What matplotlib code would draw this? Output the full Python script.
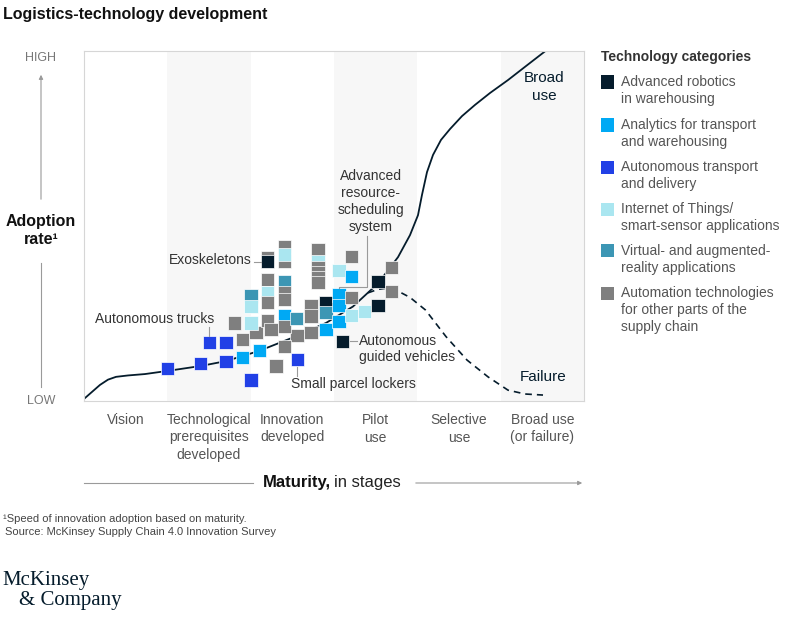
import matplotlib
matplotlib.use('Agg')
import matplotlib.pyplot as plt
from matplotlib.lines import Line2D
from matplotlib.patches import Rectangle, FancyArrowPatch

plt.rcParams['font.family'] = ['Liberation Sans', 'DejaVu Sans']

# stages on x (0 = start of "Vision", 6 = end of "Broad use"), adoption rate 0-100 on y
stage_labels = ['Vision', 'Technological\nprerequisites\ndeveloped', 'Innovation\ndeveloped',
                'Pilot\nuse', 'Selective\nuse', 'Broad use\n(or failure)']

category_names = ['Advanced robotics\nin warehousing',
                  'Analytics for transport\nand warehousing',
                  'Autonomous transport\nand delivery',
                  'Internet of Things/\nsmart-sensor applications',
                  'Virtual- and augmented-\nreality applications',
                  'Automation technologies\nfor other parts of the\nsupply chain']
category_keys = ['robot', 'analytics', 'auto', 'iot', 'vr', 'other']
category_colors = ['#051C2C', '#00A9F4', '#2140E6', '#AAE6F0', '#3C96B4', '#7F7F7F']

# technologies, in drawing order (later ones sit on top)
tech_stage = [1.806, 1.902, 2.064, 2.203, 2.244, 2.304, 2.556,
              2.203, 2.203,
              2.203, 2.203, 2.203,
              2.406, 2.406, 2.406,
              2.406, 2.406, 2.406,
              2.406, 2.406, 2.406,
              2.808, 2.808, 2.808, 2.808, 2.808, 2.808,
              2.004, 2.004, 2.004,
              2.724, 2.724, 2.724,
              2.904, 2.904, 2.904,
              3.060, 3.060, 3.060, 3.060,
              3.209, 3.209, 3.209, 3.209,
              3.370, 3.527, 3.527, 3.692, 3.692, 3.106, 2.552,
              1.902, 2.104,
              1.003, 1.400, 1.703, 1.504, 1.703, 2.004, 2.558]
tech_rate = [22.3, 17.6, 19.6, 23.1, 20.5, 10.0, 18.6,
             41.0, 39.9,
             34.7, 31.0, 28.1,
             44.1, 40.0, 41.9,
             34.0, 30.9, 28.9,
             24.3, 21.4, 15.5,
             43.4, 39.7, 38.0, 36.7, 35.4, 33.9,
             30.0, 27.0, 22.3,
             27.3, 24.3, 19.5,
             28.1, 25.3, 20.5,
             37.4, 30.3, 27.3, 22.6,
             41.4, 35.5, 29.6, 24.4,
             25.5, 34.1, 27.4, 38.1, 31.4, 17.0, 23.6,
             12.5, 14.4,
             9.3, 10.6, 11.4, 16.7, 16.7, 6.0, 11.9]
tech_kind = ['other', 'other', 'other', 'other', 'other', 'other', 'other',
             'other', 'robot',
             'other', 'iot', 'other',
             'other', 'other', 'iot',
             'vr', 'other', 'other',
             'analytics', 'other', 'other',
             'other', 'iot', 'other', 'other', 'other', 'other',
             'vr', 'iot', 'iot',
             'other', 'other', 'other',
             'robot', 'vr', 'analytics',
             'iot', 'analytics', 'analytics', 'analytics',
             'other', 'analytics', 'other', 'iot',
             'iot', 'robot', 'robot', 'other', 'other', 'robot', 'vr',
             'analytics', 'analytics',
             'auto', 'auto', 'auto', 'auto', 'auto', 'auto', 'auto']

# adoption curve (solid) and failure branch (dashed)
curve_stage = [0.0, 0.096, 0.192, 0.288, 0.384, 0.528, 0.732, 1.003, 1.400, 1.704, 2.1,
               2.556, 2.904, 3.228, 3.528, 3.768, 3.912, 4.008, 4.056, 4.116, 4.188,
               4.284, 4.392, 4.536, 4.692, 4.872, 5.088, 5.304, 5.532]
curve_rate = [0.6, 2.6, 4.6, 6.1, 6.9, 7.3, 7.7, 8.6, 10.0, 11.4, 14.3,
              18.6, 22.3, 27.0, 33.6, 41.1, 47.4, 53.1, 58.9, 65.4, 70.3,
              74.6, 77.7, 81.4, 84.6, 88.0, 91.7, 95.7, 99.9]
fail_stage = [3.408, 3.528, 3.648, 3.768, 3.912, 4.098, 4.344, 4.596, 4.848, 5.088, 5.292, 5.508]
fail_rate = [30.9, 31.9, 32.3, 31.4, 29.6, 26.0, 18.4, 11.7, 6.9, 3.1, 2.0, 1.7]

W, H = 804, 617


def fx(x):
    return x / W


def fy(y):
    return 1 - y / H


fig = plt.figure(figsize=(W / 100, H / 100), dpi=100)
fig.patch.set_facecolor('white')


def label(x, y, s, **kw):
    fig.text(fx(x), fy(y), s, **kw)


def seg(xs, ys, color='#9a9a9a', lw=0.8):
    fig.add_artist(Line2D([fx(v) for v in xs], [fy(v) for v in ys],
                          transform=fig.transFigure, color=color, lw=lw))


def arrow(x0, y0, x1, y1):
    fig.add_artist(FancyArrowPatch((fx(x0), fy(y0)), (fx(x1), fy(y1)),
                                   transform=fig.transFigure, arrowstyle='-|>',
                                   mutation_scale=6, lw=0.8, color='#9a9a9a'))


ax = fig.add_axes([fx(84), fy(401), 500 / W, 350 / H])
ax.set_xlim(0, 6)
ax.set_ylim(0, 100)
ax.set_xticks([])
ax.set_yticks([])
for s in ax.spines.values():
    s.set_color('#d6d6d6')
    s.set_linewidth(0.8)
for i in range(len(stage_labels)):
    if i % 2 == 1:
        ax.axvspan(i, i + 1, color='#f7f7f7', lw=0, zorder=0)

ax.plot(curve_stage, curve_rate, color='#051C2C', lw=1.3, zorder=2)
ax.plot(fail_stage, fail_rate, color='#051C2C', lw=1.2, ls=(0, (4, 3)), zorder=2)

color_of = dict(zip(category_keys, category_colors))
ax.scatter(tech_stage, tech_rate, c=[color_of[k] for k in tech_kind], marker='s', s=90,
           edgecolors='white', linewidths=0.5, zorder=3)

# stage labels under the plot
for i, txt in enumerate(stage_labels):
    for j, line in enumerate(txt.split('\n')):
        label(84 + 83.33 * (i + 0.5), 420 + 17.5 * j, line, ha='center', va='center',
              fontsize=10, color='#555555')

# annotations
dark = '#333333'
label(252, 260, 'Exoskeletons', ha='right', va='center', fontsize=10, color=dark)
seg([254, 261], [262, 262])
label(155, 319, 'Autonomous trucks', ha='center', va='center', fontsize=10, color=dark)
seg([209, 209], [327, 336])
for j, line in enumerate(['Advanced', 'resource-', 'scheduling', 'system']):
    label(371, 176 + 17 * j, line, ha='center', va='center', fontsize=10, color=dark)
seg([366.6, 366.6, 339, 339], [236, 286.5, 286.5, 288])
label(359, 341, 'Autonomous', ha='left', va='center', fontsize=10, color=dark)
label(359, 357, 'guided vehicles', ha='left', va='center', fontsize=10, color=dark)
seg([350, 357], [341, 341])
label(353, 384, 'Small parcel lockers', ha='center', va='center', fontsize=10, color=dark)
seg([297, 297], [367, 376])
label(544, 78, 'Broad', ha='center', va='center', fontsize=11, color='#051C2C')
label(544, 96, 'use', ha='center', va='center', fontsize=11, color='#051C2C')
label(543, 377, 'Failure', ha='center', va='center', fontsize=11, color='#051C2C')

# y axis
label(41, 58, 'HIGH', ha='center', va='center', fontsize=9, color='#777777')
label(41, 401, 'LOW', ha='center', va='center', fontsize=9, color='#777777')
label(41, 221, 'Adoption', ha='center', va='center', fontsize=11.5, weight='bold', color='#111111')
label(41, 240, 'rate\u00b9', ha='center', va='center', fontsize=11.5, weight='bold', color='#111111')
arrow(41, 202, 41, 72)
seg([41, 41], [263, 387])

# x axis
seg([84, 253], [483, 483])
arrow(413, 483, 585, 483)
label(263, 483, 'Maturity,', ha='left', va='center', fontsize=12, weight='bold', color='#111111')
label(334, 483, 'in stages', ha='left', va='center', fontsize=12, color='#222222')

# title
label(3, 15, 'Logistics-technology development', ha='left', va='center', fontsize=11.5,
      weight='bold', color='#111111')

# legend
label(601, 57, 'Technology categories', ha='left', va='center', fontsize=10, weight='bold',
      color='#333333')
legend_y = [82, 125, 167, 209, 251, 293]
for name, color, y in zip(category_names, category_colors, legend_y):
    fig.add_artist(Rectangle((fx(601), fy(y + 6.5)), 13 / W, 13 / H, transform=fig.transFigure,
                             facecolor=color, edgecolor='none'))
    for j, line in enumerate(name.split('\n')):
        label(621, y + 17 * j, line, ha='left', va='center', fontsize=10, color='#555555')

# footnotes
label(3, 519, '\u00b9Speed of innovation adoption based on maturity.', ha='left', va='center',
      fontsize=8, color='#444444')
label(5, 532, 'Source: McKinsey Supply Chain 4.0 Innovation Survey', ha='left', va='center',
      fontsize=8, color='#444444')

label(2, 580, 'McKinsey', ha='left', va='center', fontsize=15, color='#051C2C',
      family='Liberation Serif')
label(19, 601, '& Company', ha='left', va='center', fontsize=15, color='#051C2C',
      family='Liberation Serif')

fig.savefig('out.png', dpi=100)
